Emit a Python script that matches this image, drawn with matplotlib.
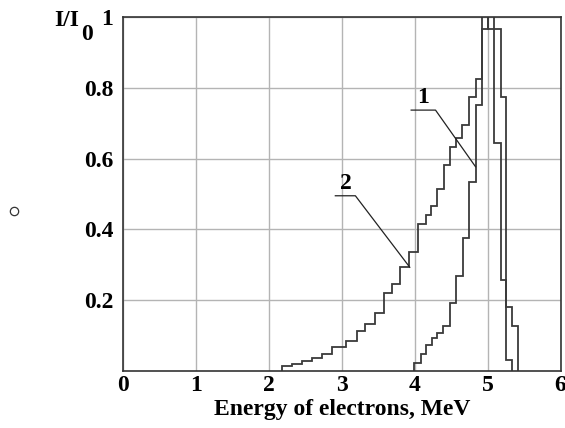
import matplotlib
matplotlib.use("Agg")
import matplotlib.pyplot as plt
from matplotlib.lines import Line2D

# ---- data ----
# curve 2 (broad spectrum)
edges2 = [2.180, 2.317, 2.455, 2.592, 2.729, 2.867, 3.063, 3.210, 3.324, 3.462,
          3.575, 3.691, 3.795, 3.919, 4.048, 4.158, 4.227, 4.309, 4.400, 4.482,
          4.565, 4.652, 4.743, 4.835, 4.918, 5.004, 5.087, 5.179, 5.247, 5.330,
          5.416]
vals2 = [0.013, 0.021, 0.029, 0.036, 0.047, 0.069, 0.086, 0.114, 0.133, 0.165,
         0.220, 0.245, 0.295, 0.337, 0.414, 0.441, 0.466, 0.513, 0.582, 0.634,
         0.659, 0.695, 0.773, 0.825, 1.10, 0.965, 0.965, 0.773, 0.182, 0.127]
# curve 1 (narrow spectrum)
edges1 = [3.997, 4.093, 4.162, 4.240, 4.309, 4.391, 4.482, 4.570, 4.661, 4.743,
          4.835, 4.918, 5.004, 5.087, 5.179, 5.247, 5.330]
vals1 = [0.022, 0.048, 0.073, 0.094, 0.106, 0.127, 0.193, 0.268, 0.375, 0.535,
         0.751, 0.965, 1.10, 0.643, 0.257, 0.031]

xticks = [0, 1, 2, 3, 4, 5, 6]
xticklabels = ["0", "1", "2", "3", "4", "5", "6"]
yticks = [0.2, 0.4, 0.6, 0.8, 1.0]
yticklabels = ["0.2", "0.4", "0.6", "0.8", "1"]
xlabel = "Energy of electrons, MeV"

# ---- figure ----
W, H = 565, 428
fig = plt.figure(figsize=(W / 100, H / 100), dpi=100)
ax = fig.add_axes([123 / W, 1 - 371 / H, (560.5 - 123) / W, (371 - 17) / H])

serif = ["Liberation Serif", "DejaVu Serif"]
fs = 17

ax.set_xlim(0, 6)
ax.set_ylim(0, 1)
ax.set_xticks(xticks)
ax.set_xticklabels(xticklabels, fontfamily=serif, fontweight="bold", fontsize=fs)
ax.set_yticks(yticks)
ax.set_yticklabels(yticklabels, fontfamily=serif, fontweight="bold", fontsize=fs)
ax.tick_params(length=0, pad=7)
ax.tick_params(axis="x", pad=3)
ax.grid(True, color="#b4b4b4", linewidth=1.0)
ax.set_axisbelow(True)
for s in ax.spines.values():
    s.set_color("#333333")
    s.set_linewidth(1.2)

col = "#3a3a3a"
ax.stairs(vals2, edges2, baseline=0, color=col, linewidth=1.3)
ax.stairs(vals1, edges1, baseline=0, color=col, linewidth=1.3)

# callouts
lc = "#222222"
ax.plot([2.912, 3.187, 3.933], [0.495, 0.495, 0.293], color=lc, linewidth=0.9)
ax.text(3.05, 0.50, "2", fontfamily=serif, fontweight="bold", fontsize=fs,
        ha="center", va="bottom")
ax.plot([3.952, 4.286, 4.835], [0.737, 0.737, 0.577], color=lc, linewidth=0.9)
ax.text(4.12, 0.742, "1", fontfamily=serif, fontweight="bold", fontsize=fs,
        ha="center", va="bottom")

ax.set_xlabel(xlabel, fontfamily=serif, fontweight="bold", fontsize=fs, labelpad=2)

# y-axis label I/I0 at top left
fig.text(54 / W, 1 - 21 / H, "I/I", fontfamily=serif, fontweight="bold",
         fontsize=fs, ha="left", va="center")
fig.text(81 / W, 1 - 35 / H, "0", fontfamily=serif, fontweight="bold",
         fontsize=fs, ha="left", va="center")

# small open circle on the left margin
fig.add_artist(Line2D([14 / W], [1 - 211 / H], marker="o", markersize=6,
                      markerfacecolor="white", markeredgecolor="#333333",
                      markeredgewidth=0.9, transform=fig.transFigure))

fig.savefig("out.png", dpi=100)
